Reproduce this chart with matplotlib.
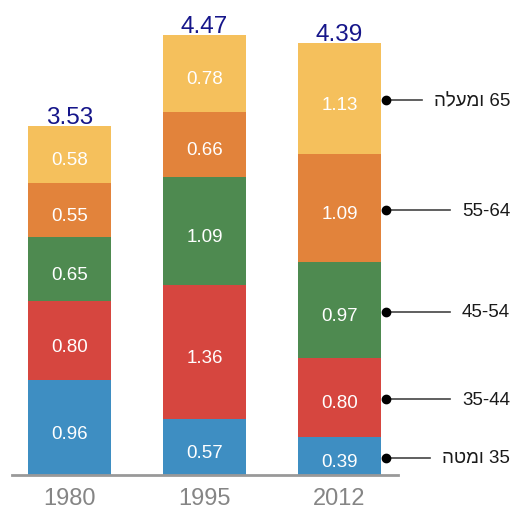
import re
import matplotlib
matplotlib.use("Agg")
import matplotlib.pyplot as plt
import numpy as np
from matplotlib.lines import Line2D

plt.rcParams['font.family'] = ['Liberation Sans', 'DejaVu Sans']

years = ["1980", "1995", "2012"]
groups = ["35 ומטה", "35-44", "45-54", "55-64", "65 ומעלה"]
v_under35 = [0.96, 0.57, 0.39]
v_35_44 = [0.80, 1.36, 0.80]
v_45_54 = [0.65, 1.09, 0.97]
v_55_64 = [0.55, 0.66, 1.09]
v_65plus = [0.58, 0.78, 1.13]
totals = [3.53, 4.47, 4.39]

series = [v_under35, v_35_44, v_45_54, v_55_64, v_65plus]
colors = ["#3e8ec2", "#d6463f", "#4e8a50", "#e2833b", "#f5c05c"]

HEB = re.compile(r'[\u0590-\u05FF]')


def visual(s):
    # matplotlib lays glyphs out left-to-right with no bidi; build the
    # right-to-left display order by hand (number on the right, word reversed)
    if HEB.search(s):
        toks = s.split(' ')
        return ' '.join(t[::-1] if HEB.search(t) else t for t in reversed(toks))
    return s


W, H = 514, 510
fig = plt.figure(figsize=(W / 100, H / 100), dpi=100)
ax = fig.add_axes([12 / W, 34 / H, 386 / W, 476 / H])

x = np.arange(len(years))
bottom = np.zeros(len(years))
centers = []
for vals, col in zip(series, colors):
    vals = np.array(vals)
    ax.bar(x, vals, bottom=bottom, width=0.62, color=col, edgecolor='none', zorder=2)
    c = bottom + vals / 2
    centers.append(c)
    for xi, ci, v in zip(x, c, vals):
        ax.annotate(f"{v:.2f}", (xi, ci), xytext=(0, -4), textcoords='offset points',
                    ha='center', va='center', color='white', fontsize=13.5)
    bottom = bottom + vals

for xi, b, t in zip(x, bottom, totals):
    ax.annotate(f"{t:.2f}", (xi, b), xytext=(0, 2), textcoords='offset points',
                ha='center', va='baseline', color='#16168a', fontsize=17.5)

ax.set_xlim(-0.426, 2.433)
ax.set_ylim(0, 476 / 98.7)
for s in ['top', 'right', 'left']:
    ax.spines[s].set_visible(False)
ax.spines['bottom'].set_color('#999999')
ax.spines['bottom'].set_linewidth(2)
ax.set_yticks([])
ax.set_xticks(x)
ax.set_xticklabels(years, color='#858585', fontsize=17)
ax.tick_params(axis='x', length=0, pad=9)

# right-side group labels for last bar
last = len(years) - 1
texts = []
for g, c in zip(groups, centers):
    ypix = ax.transData.transform((last, c[last]))[1] - 2
    t = fig.text(510 / W, ypix / H, visual(g), ha='right', va='center',
                 fontsize=13.5, color='#1a1a1a')
    texts.append((t, ypix))

fig.canvas.draw()
r = fig.canvas.get_renderer()
xdot = 386
for t, ypix in texts:
    x0 = t.get_window_extent(r).x0
    fig.add_artist(Line2D([xdot / W, (x0 - 12) / W], [ypix / H, ypix / H],
                          transform=fig.transFigure, color='#444444', lw=1.2))
    fig.add_artist(Line2D([xdot / W], [ypix / H], transform=fig.transFigure,
                          marker='o', markersize=6, color='black', lw=0))

fig.savefig("out.png", dpi=100)
